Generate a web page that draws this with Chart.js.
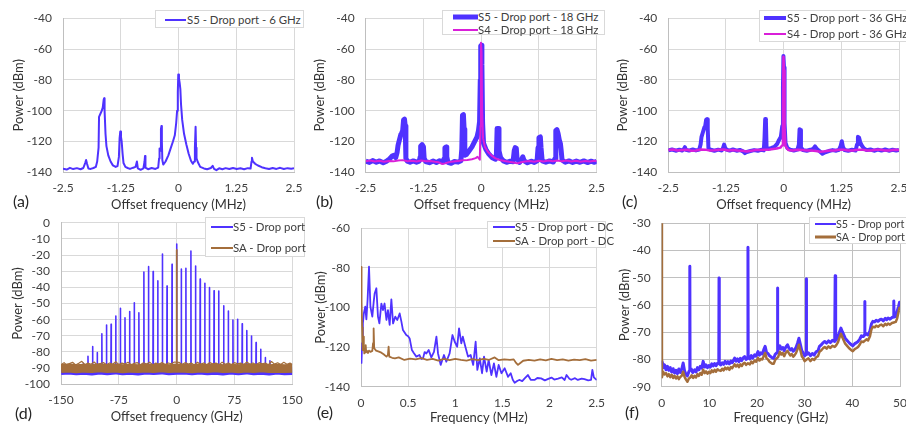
<!DOCTYPE html>
<html>
<head>
<meta charset="utf-8">
<script src="https://cdn.jsdelivr.net/npm/chart.js@4.4.1/dist/chart.umd.min.js"></script>
<style>
  html, body { margin: 0; padding: 0; background: #fff; }
  #wrap { position: relative; width: 906px; height: 425px; overflow: hidden; font-family: Lato, "Open Sans", sans-serif; }
  #wrap canvas { position: absolute; left: 0; top: 0; }
  .lg { position: absolute; background: #fff; border: 1px solid #d9d9d9; box-sizing: border-box; z-index: 5; }
  .row { position: absolute; left: 0; height: 14px; line-height: 14px; font-size: 11.4px; color: #404040; white-space: nowrap; }
  .sw { position: absolute; top: 50%; transform: translateY(-50%); }
  .row span.t { position: absolute; top: 0; }
  .pl { position: absolute; font-size: 16px; line-height: 16px; color: #262626; z-index: 5; }
</style>
</head>
<body>
<div id="wrap"></div>
<script>
// ---- colours
const BLUE = '#4f32ff';
const MAGENTA = '#d91fd9';
const BROWN = '#a46e3b';

// ---- (a) 6 GHz drop port, offset frequency in MHz
const aS5 = [[-2.5,-137.6],[-2.42,-138.2],[-2.35,-137.1],[-2.28,-137.9],[-2.2,-137.3],[-2.12,-138],[-2.06,-137.2],[-2.02,-134],[-2.0,-132],[-1.98,-134.5],[-1.95,-137.5],[-1.9,-137.8],[-1.84,-137.2],[-1.79,-136.5],[-1.76,-133],[-1.73,-124],[-1.72,-104],[-1.69,-102],[-1.66,-100],[-1.64,-98],[-1.62,-93],[-1.61,-92],[-1.6,-100],[-1.58,-115],[-1.56,-123],[-1.52,-129],[-1.47,-133],[-1.42,-135.5],[-1.36,-136.5],[-1.32,-136],[-1.29,-130],[-1.275,-118],[-1.26,-113.5],[-1.245,-117],[-1.23,-120],[-1.21,-128],[-1.19,-134],[-1.15,-136.5],[-1.1,-137.2],[-1.05,-137.8],[-0.98,-137],[-0.93,-136.5],[-0.9,-133],[-0.88,-137.5],[-0.82,-138.4],[-0.76,-137.5],[-0.735,-133],[-0.725,-129.5],[-0.715,-137],[-0.66,-138],[-0.58,-137.2],[-0.5,-137.8],[-0.44,-137],[-0.42,-131],[-0.41,-124.5],[-0.395,-126],[-0.38,-112],[-0.37,-110],[-0.36,-120],[-0.35,-132],[-0.33,-135],[-0.28,-133],[-0.22,-129],[-0.17,-124.5],[-0.12,-120],[-0.08,-116],[-0.05,-108],[-0.03,-100],[-0.015,-88],[-0.005,-76.5],[0.01,-79],[0.025,-82],[0.04,-86],[0.055,-96],[0.08,-106],[0.12,-115],[0.17,-122],[0.22,-128],[0.27,-132.5],[0.31,-134.5],[0.34,-133],[0.355,-124],[0.37,-110.5],[0.38,-124],[0.39,-131],[0.42,-133.5],[0.47,-136.5],[0.55,-137.5],[0.62,-138],[0.7,-137.2],[0.74,-135.8],[0.77,-137.8],[0.82,-138.6],[0.88,-137.4],[0.95,-138],[1.02,-137.3],[1.1,-137.9],[1.18,-137.2],[1.26,-137.8],[1.34,-137.4],[1.42,-138],[1.5,-137.3],[1.56,-137.6],[1.58,-133],[1.59,-130.5],[1.61,-133],[1.66,-134.5],[1.72,-135.6],[1.8,-136.7],[1.88,-137.4],[1.96,-137.9],[2.04,-137.2],[2.12,-137.8],[2.2,-137.1],[2.28,-137.9],[2.36,-137.3],[2.44,-137.7],[2.5,-137.4]];

// ---- (b) 18 GHz
const bS5 = [[-2.5,-132.8],[-2.42,-133.6],[-2.35,-132.4],[-2.27,-133.5],[-2.2,-132.6],[-2.12,-133.8],[-2.05,-132.8],[-1.98,-131.2],[-1.93,-129.5],[-1.89,-129],[-1.85,-130.5],[-1.82,-127],[-1.8,-122.5],[-1.77,-119],[-1.74,-115.5],[-1.72,-114.5],[-1.7,-113],[-1.68,-106],[-1.66,-105.5],[-1.645,-110],[-1.63,-131],[-1.6,-132.8],[-1.54,-133.5],[-1.47,-132.6],[-1.4,-133.4],[-1.34,-132.7],[-1.32,-130],[-1.31,-123],[-1.28,-122],[-1.25,-123.5],[-1.235,-131],[-1.2,-133],[-1.12,-133.8],[-1.04,-132.7],[-0.97,-133.6],[-0.9,-132.5],[-0.83,-133.3],[-0.8,-131],[-0.785,-124],[-0.76,-123.6],[-0.745,-130],[-0.72,-133.5],[-0.65,-134.2],[-0.58,-133],[-0.5,-133.4],[-0.44,-132.5],[-0.42,-125],[-0.405,-103],[-0.385,-102.6],[-0.37,-112],[-0.355,-129],[-0.32,-128.5],[-0.26,-126],[-0.2,-123.5],[-0.14,-120],[-0.09,-117],[-0.06,-113],[-0.035,-107],[-0.02,-80],[-0.01,-58],[0.005,-57.5],[0.015,-70],[0.03,-108],[0.05,-121],[0.1,-125],[0.16,-128],[0.24,-130.5],[0.31,-131.5],[0.33,-128],[0.345,-111.5],[0.37,-111.5],[0.385,-126],[0.42,-130.5],[0.48,-132.6],[0.55,-133.5],[0.63,-132.8],[0.69,-133.2],[0.715,-126],[0.735,-124],[0.76,-124.5],[0.775,-131],[0.83,-133.6],[0.87,-132],[0.9,-130],[0.93,-132.6],[1.0,-133.8],[1.08,-132.8],[1.15,-133.6],[1.21,-132.5],[1.23,-124],[1.25,-117.5],[1.28,-117],[1.295,-124],[1.32,-132.6],[1.4,-133.5],[1.48,-132.6],[1.56,-133.3],[1.6,-131],[1.615,-113],[1.64,-112.3],[1.665,-115],[1.69,-119],[1.715,-121.5],[1.73,-125.5],[1.75,-132],[1.82,-133.5],[1.9,-132.6],[1.98,-133.6],[2.06,-132.7],[2.14,-133.5],[2.22,-132.6],[2.3,-133.7],[2.38,-132.8],[2.45,-133.5],[2.5,-132.9]];
const bS4 = [[-2.5,-132.8],[-2.4,-132.4],[-2.3,-133],[-2.2,-132.5],[-2.1,-133.1],[-2.0,-132.6],[-1.9,-132.9],[-1.8,-132.3],[-1.7,-132.1],[-1.6,-132.8],[-1.5,-132.5],[-1.4,-133],[-1.3,-132.4],[-1.2,-132.9],[-1.1,-132.6],[-1.0,-133.2],[-0.92,-133.5],[-0.85,-134.6],[-0.78,-134.2],[-0.7,-133.4],[-0.6,-133],[-0.5,-132.6],[-0.4,-132.2],[-0.3,-132],[-0.2,-131.5],[-0.12,-130.8],[-0.08,-130],[-0.05,-131],[-0.03,-131.8],[-0.015,-110],[-0.005,-56],[0.008,-62],[0.02,-100],[0.04,-118],[0.08,-123.5],[0.14,-126.5],[0.22,-129],[0.3,-130.8],[0.4,-132],[0.5,-132.6],[0.6,-133.2],[0.7,-133.6],[0.78,-134.2],[0.86,-133.5],[0.95,-133],[1.05,-132.6],[1.15,-133.1],[1.25,-132.5],[1.35,-133],[1.45,-132.4],[1.55,-132.8],[1.65,-132.3],[1.75,-132.9],[1.85,-132.4],[1.95,-133],[2.05,-132.5],[2.15,-133.1],[2.25,-132.6],[2.35,-133],[2.45,-132.5],[2.5,-132.8]];

// ---- (c) 36 GHz
const cS5 = [[-2.5,-125.8],[-2.42,-125.2],[-2.34,-126],[-2.26,-125.3],[-2.2,-125.9],[-2.16,-124.8],[-2.14,-123.7],[-2.12,-125.4],[-2.05,-125.9],[-1.97,-125.2],[-1.9,-125.8],[-1.83,-125.3],[-1.8,-122],[-1.78,-117],[-1.75,-114],[-1.72,-111],[-1.7,-110],[-1.68,-106],[-1.66,-105.5],[-1.645,-112],[-1.63,-124.5],[-1.58,-125.4],[-1.5,-126],[-1.42,-125.3],[-1.34,-125.8],[-1.31,-124],[-1.29,-122],[-1.27,-124],[-1.24,-125.3],[-1.17,-125.9],[-1.1,-125.2],[-1.02,-126],[-0.95,-125.5],[-0.88,-126.4],[-0.84,-127.6],[-0.8,-126.8],[-0.72,-126.2],[-0.64,-125.6],[-0.56,-126],[-0.49,-125.4],[-0.43,-125.8],[-0.415,-118],[-0.4,-105.4],[-0.385,-106],[-0.37,-124.5],[-0.33,-124.8],[-0.26,-124.2],[-0.2,-123.5],[-0.14,-121.5],[-0.1,-119],[-0.06,-117],[-0.03,-110],[-0.015,-85],[-0.005,-64.5],[0.008,-72],[0.02,-108],[0.04,-121],[0.08,-124.2],[0.14,-125.3],[0.22,-125.8],[0.3,-125.3],[0.33,-122],[0.345,-112],[0.36,-112.5],[0.375,-124],[0.42,-125.6],[0.5,-126],[0.58,-125.4],[0.64,-124.8],[0.68,-123.2],[0.72,-124.8],[0.78,-126.4],[0.84,-128],[0.9,-127],[0.98,-126.2],[1.06,-125.6],[1.14,-126],[1.2,-125.4],[1.235,-123],[1.26,-119.8],[1.285,-123.5],[1.32,-125.5],[1.4,-126],[1.48,-125.4],[1.56,-125.8],[1.59,-122],[1.61,-117],[1.635,-117.5],[1.66,-120.5],[1.7,-123],[1.74,-124.5],[1.8,-125.6],[1.88,-125.2],[1.96,-126],[2.04,-125.3],[2.12,-125.9],[2.2,-125.2],[2.28,-126],[2.36,-125.4],[2.44,-125.9],[2.5,-125.5]];
const cS4 = [[-2.5,-125.6],[-2.4,-125.2],[-2.3,-125.9],[-2.2,-125.5],[-2.1,-125.4],[-2.0,-126],[-1.9,-125.8],[-1.8,-125.2],[-1.7,-125.3],[-1.6,-125.9],[-1.5,-125.7],[-1.4,-125.3],[-1.3,-125.2],[-1.2,-125.8],[-1.1,-125.6],[-1.0,-125.9],[-0.9,-126],[-0.8,-126.5],[-0.7,-126],[-0.6,-125.5],[-0.5,-125.6],[-0.4,-125.4],[-0.3,-125.2],[-0.15,-124.6],[-0.07,-124],[-0.03,-122.5],[-0.015,-98],[-0.004,-65],[0.008,-74],[0.02,-112],[0.04,-123],[0.1,-125.5],[0.2,-125.9],[0.3,-125.4],[0.4,-125.5],[0.5,-125.9],[0.6,-125.9],[0.7,-126.2],[0.8,-126.6],[0.9,-126.3],[1.0,-125.8],[1.1,-125.8],[1.2,-125.3],[1.3,-125.4],[1.4,-125.9],[1.5,-125.8],[1.6,-125.4],[1.7,-125.3],[1.8,-125.9],[1.9,-125.8],[2.0,-125.3],[2.1,-125.4],[2.2,-125.9],[2.3,-125.9],[2.4,-125.4],[2.5,-125.6]];

// ---- (d) full comb, offset frequency in GHz
const dToothFreq = [-121,-115,-109,-103,-97,-91,-85,-79,-73,-67,-61,-55,-49,-42.5,-36.5,-30.5,-24.5,-18.5,-12.5,-6,0,6,12,18.5,24.5,30.5,36.5,42.5,48.5,54.5,61,67,73,79,85,91,97,103,109,115,121];
const dToothS5 = [-87,-82.7,-76.7,-80.4,-68.7,-63.3,-62.9,-57.7,-53,-58.8,-55,-49.5,-55.7,-30.5,-27.2,-30.3,-36,-19.4,-39.2,-25.8,-13.2,-28.7,-28.2,-17.5,-26.8,-34.8,-37.5,-40.2,-42.2,-42.3,-51.5,-54.6,-60.2,-59.8,-62.5,-66.8,-70.1,-74.2,-78.4,-83.5,-85.4];
const dFloorS5 = [[-150,-91.8],[-140,-91.5],[-130,-92],[-120,-91.6],[-110,-92.1],[-100,-91.5],[-90,-91.9],[-80,-91.4],[-70,-92],[-60,-91.6],[-50,-92.1],[-40,-91.5],[-30,-91.8],[-20,-91.4],[-10,-92],[0,-91.6],[10,-91.4],[20,-91.9],[30,-91.5],[40,-92],[50,-91.6],[60,-92.1],[70,-91.5],[80,-91.9],[90,-91.4],[100,-92],[110,-91.6],[120,-92.1],[130,-91.5],[140,-91.9],[150,-91.7]];
const dFloorSA = [[-150,-90.2],[-140,-89.9],[-130,-90.4],[-120,-90],[-110,-90.3],[-100,-89.8],[-90,-90.2],[-80,-89.9],[-70,-90.4],[-60,-90],[-50,-90.3],[-40,-89.9],[-30,-90.2],[-20,-89.8],[-10,-90.3],[0,-89.9],[10,-90.1],[20,-90.4],[30,-89.9],[40,-90.2],[50,-89.8],[60,-90.3],[70,-90],[80,-90.4],[90,-89.9],[100,-90.2],[110,-89.8],[120,-90.3],[130,-90],[140,-90.3],[150,-90.1]];
const dSAFuzz = [[-150,-87.8],[-146,-86.6],[-143,-88],[-139,-87.2],[-135,-86.4],[-131,-88.1],[-127,-87],[-123,-85.8],[-119,-87.9],[-115,-86.9],[-111,-87.6],[-107,-86.2],[-103,-88],[-99,-87.1],[-95,-86.5],[-91,-87.9],[-87,-86.8],[-83,-87.6],[-79,-86],[-75,-87.8],[-71,-86.9],[-67,-87.5],[-63,-86.4],[-59,-88],[-55,-87],[-51,-86.6],[-47,-87.9],[-43,-86.7],[-39,-87.4],[-35,-86.3],[-31,-88],[-27,-86.9],[-23,-87.6],[-19,-86.5],[-15,-87.9],[-11,-86.8],[-7,-87.3],[-3,-86.2],[3,-86.4],[7,-87.8],[11,-86.6],[15,-87.5],[19,-86.9],[23,-88],[27,-86.4],[31,-87.6],[35,-86.8],[39,-87.9],[43,-86.5],[47,-87.4],[51,-86.9],[55,-88],[59,-86.3],[63,-87.6],[67,-86.8],[71,-87.9],[75,-86.6],[79,-87.3],[83,-86.9],[87,-87.8],[91,-86.2],[95,-87.6],[99,-86.8],[103,-87.9],[107,-86.6],[111,-87.4],[115,-86.8],[119,-87.9],[123,-85.9],[127,-87.5],[131,-86.7],[135,-87.8],[139,-86.4],[143,-87.6],[147,-86.9],[150,-87.7]];
const dSAPeak = [[-0.3,-90],[0,-16.9],[0.3,-90]];
const dTeethBase = -91;

// ---- (e) baseband (DC) drop port, frequency in MHz
const eS5 = [[0,-124],[0.005,-128],[0.012,-118],[0.02,-108],[0.03,-103],[0.045,-99.6],[0.057,-106],[0.07,-96],[0.085,-79.4],[0.1,-99.6],[0.12,-104.6],[0.135,-97],[0.145,-92.9],[0.163,-90.3],[0.18,-104.6],[0.195,-108],[0.216,-98],[0.233,-101.3],[0.25,-98],[0.27,-106.3],[0.286,-101.3],[0.304,-108.8],[0.322,-95.9],[0.34,-108],[0.364,-104.6],[0.385,-106.3],[0.41,-103],[0.428,-107],[0.445,-111.4],[0.48,-113.9],[0.5,-114.5],[0.516,-115.6],[0.54,-121.5],[0.56,-123],[0.587,-124.8],[0.62,-124],[0.64,-126],[0.658,-125.7],[0.675,-122.5],[0.693,-123.2],[0.718,-121.5],[0.746,-125.2],[0.774,-122.4],[0.8,-114.7],[0.817,-123.2],[0.845,-129],[0.88,-124],[0.905,-127.4],[0.94,-123.2],[0.97,-113.9],[0.994,-117.3],[1.02,-119.8],[1.04,-110.5],[1.064,-118.1],[1.08,-114.7],[1.107,-119.8],[1.135,-124.8],[1.163,-124],[1.19,-129],[1.216,-117.3],[1.234,-131.5],[1.26,-125.7],[1.284,-133.2],[1.305,-124.8],[1.333,-132.4],[1.354,-126.5],[1.383,-134.1],[1.41,-128.2],[1.436,-135],[1.46,-129],[1.49,-133.2],[1.524,-130.7],[1.56,-135],[1.588,-133.2],[1.61,-136.5],[1.63,-138],[1.66,-137],[1.683,-136.6],[1.71,-137.2],[1.736,-135.8],[1.77,-134.1],[1.8,-136.5],[1.84,-136.6],[1.87,-135.6],[1.91,-135.8],[1.95,-136.8],[1.98,-136.2],[2.02,-135.4],[2.05,-136.4],[2.09,-135.9],[2.13,-135.3],[2.16,-136.6],[2.18,-134.1],[2.21,-136],[2.23,-136.5],[2.27,-135.7],[2.3,-136.6],[2.34,-135.9],[2.37,-136.2],[2.41,-136.8],[2.44,-136.6],[2.454,-131.5],[2.47,-135.3],[2.49,-136.2],[2.5,-136.6]];
const eSA = [[0,-79.5],[0.004,-85],[0.008,-97],[0.012,-110],[0.016,-116],[0.02,-121.5],[0.025,-114.7],[0.03,-120],[0.035,-123.2],[0.045,-122.5],[0.05,-119],[0.055,-122.6],[0.065,-122],[0.075,-123],[0.085,-121.8],[0.1,-122.4],[0.12,-121.9],[0.128,-118],[0.134,-110.5],[0.14,-120.6],[0.16,-121.8],[0.19,-122.3],[0.216,-122.8],[0.24,-123.6],[0.27,-124.8],[0.285,-124],[0.293,-119.8],[0.3,-124.8],[0.33,-125.4],[0.36,-125.7],[0.4,-125.2],[0.46,-126.5],[0.52,-125.8],[0.58,-126.2],[0.64,-125.6],[0.7,-126.4],[0.76,-125.9],[0.82,-126.8],[0.88,-126],[0.94,-126.6],[1.0,-125.9],[1.06,-126.5],[1.12,-126.8],[1.18,-126.1],[1.24,-126.6],[1.3,-125.9],[1.36,-126.4],[1.418,-125.2],[1.46,-126.6],[1.52,-126.2],[1.58,-126.5],[1.62,-126.2],[1.645,-128],[1.665,-129],[1.69,-128],[1.72,-126.9],[1.78,-126.5],[1.84,-126.8],[1.9,-126.2],[1.96,-126.7],[2.02,-126],[2.08,-126.6],[2.14,-126.2],[2.2,-126.8],[2.26,-126.3],[2.32,-126.6],[2.38,-126.1],[2.44,-126.8],[2.5,-126.5]];

// ---- (f) wideband drop port, frequency in GHz
const fS5 = [[0,-80.5],[0.2,-81.5],[0.4,-83],[0.6,-82],[0.9,-83.8],[1.2,-82.5],[1.5,-84],[1.8,-83],[2.1,-84.6],[2.4,-83.4],[2.7,-85],[3.0,-84],[3.3,-85.2],[3.6,-83.5],[3.9,-84.8],[4.2,-83.6],[4.5,-81.3],[4.8,-84.2],[5.1,-85.5],[5.4,-86],[5.7,-84.5],[5.85,-84],[5.9,-45.8],[5.95,-84],[6.2,-83.5],[6.5,-84.8],[6.9,-83.8],[7.2,-84.6],[7.5,-83],[7.8,-83.8],[8.1,-82.5],[8.4,-83.2],[8.7,-80.7],[9.0,-82.8],[9.3,-82],[9.6,-83],[9.9,-82.2],[10.2,-82.8],[10.5,-81.6],[10.8,-82.4],[11.1,-81.5],[11.4,-82.3],[11.7,-81.4],[11.98,-81.5],[12.03,-50.1],[12.08,-81.6],[12.4,-82],[12.7,-81.2],[13.0,-81.8],[13.3,-80.7],[13.6,-81.5],[13.9,-80.8],[14.2,-81.6],[14.5,-80.6],[14.8,-81.2],[15.3,-79.5],[15.6,-80.6],[15.9,-79.8],[16.2,-80.8],[16.5,-79.6],[16.8,-80.4],[17.1,-79.4],[17.4,-78.9],[17.7,-80],[18.05,-79.5],[18.1,-38.8],[18.15,-79.2],[18.5,-79.8],[18.8,-78.6],[19.1,-79.5],[19.5,-78.3],[19.8,-78.8],[20.2,-77.1],[20.5,-78.4],[20.8,-77.6],[21.1,-78],[21.4,-76.5],[21.7,-75.2],[22.0,-77.5],[22.3,-77.8],[22.6,-78.6],[22.9,-79],[23.2,-79.4],[23.5,-79.6],[23.8,-78.2],[24.1,-77.6],[24.25,-77.5],[24.3,-53.8],[24.35,-77],[24.8,-75],[25.1,-76.2],[25.4,-75.6],[25.7,-76.8],[26.0,-75.6],[26.4,-74.6],[26.7,-75.8],[27.0,-76.5],[27.3,-76],[27.6,-77],[27.9,-76.4],[28.2,-75.5],[28.5,-74],[28.8,-72.2],[29.1,-74.5],[29.4,-76.8],[29.7,-77.6],[30.0,-78.7],[30.3,-78],[30.35,-50.4],[30.4,-78.2],[30.8,-77.6],[31.2,-78.6],[31.6,-77.8],[32.0,-78.4],[32.4,-77.2],[32.8,-76.8],[33.1,-75.2],[33.5,-74.6],[33.9,-73.8],[34.2,-73.4],[34.6,-74],[35.0,-73.2],[35.4,-73.8],[35.8,-73],[36.3,-73.4],[36.4,-49.3],[36.5,-73],[37.0,-71.6],[37.3,-70],[37.6,-68.5],[37.9,-69.8],[38.2,-71],[38.5,-72.2],[38.9,-73],[39.4,-74],[39.8,-74.6],[40.1,-75],[40.5,-74.2],[40.9,-73.8],[41.2,-73.4],[41.6,-72.4],[41.9,-71.3],[42.3,-71.6],[42.55,-71],[42.6,-58.7],[42.65,-71],[43.0,-70.6],[43.3,-71],[43.7,-69.5],[44.0,-67],[44.3,-66],[44.7,-66.2],[45.0,-65.6],[45.4,-66],[45.8,-65.4],[46.1,-65.2],[46.5,-65.8],[46.9,-64.9],[47.2,-65.4],[47.5,-64.8],[47.9,-65.2],[48.3,-64.6],[48.65,-64.4],[48.7,-58.5],[48.75,-64.4],[49.1,-64.2],[49.4,-62.4],[49.7,-60.5],[49.9,-59],[50,-60.5]];
const fSA = [[0,-30],[0.05,-86.5],[0.3,-84.5],[0.6,-85.5],[0.9,-85],[1.2,-86.2],[1.5,-85.4],[1.8,-86.5],[2.1,-85.6],[2.4,-86.8],[2.7,-86],[3.0,-87],[3.3,-86.2],[3.6,-87.2],[3.9,-86.4],[4.2,-86],[4.5,-84.5],[4.8,-86.4],[5.1,-87.4],[5.4,-88.2],[5.7,-87],[6.0,-86.6],[6.3,-85.8],[6.6,-86.8],[6.9,-86],[7.2,-86.6],[7.5,-85.4],[7.8,-86],[8.1,-85],[8.4,-85.6],[8.7,-83.8],[9.0,-85],[9.3,-84.4],[9.6,-85.2],[9.9,-84.5],[10.2,-85],[10.5,-84],[10.8,-84.6],[11.1,-83.8],[11.4,-84.5],[11.7,-83.6],[12.0,-84],[12.4,-84.2],[12.7,-83.4],[13.0,-84],[13.3,-83],[13.6,-83.6],[13.9,-83],[14.2,-83.8],[14.5,-82.8],[14.8,-83.2],[15.3,-81.8],[15.6,-82.6],[15.9,-81.9],[16.2,-82.8],[16.5,-81.8],[16.8,-82.4],[17.1,-81.5],[17.4,-81.2],[17.7,-82],[18.1,-81.4],[18.5,-81.8],[18.8,-80.8],[19.1,-81.4],[19.5,-80.4],[19.8,-80.8],[20.2,-79.4],[20.5,-80.4],[20.8,-79.8],[21.1,-80],[21.4,-78.8],[21.7,-77.6],[22.0,-79.6],[22.3,-80],[22.6,-80.8],[22.9,-81.2],[23.2,-81.6],[23.5,-81.6],[23.8,-80.2],[24.1,-79.6],[24.4,-79.2],[24.8,-77.2],[25.1,-78.2],[25.4,-77.6],[25.7,-78.8],[26.0,-77.6],[26.4,-76.8],[26.7,-77.8],[27.0,-78.5],[27.3,-78],[27.6,-79],[27.9,-78.4],[28.2,-77.6],[28.5,-76.2],[28.8,-74.6],[29.1,-76.6],[29.4,-78.8],[29.7,-79.6],[30.0,-80.6],[30.4,-80],[30.8,-79.6],[31.2,-80.6],[31.6,-79.8],[32.0,-80.2],[32.4,-79.2],[32.8,-78.8],[33.1,-77.2],[33.5,-76.6],[33.9,-75.8],[34.2,-75.4],[34.6,-76],[35.0,-75.2],[35.4,-75.8],[35.8,-75],[36.3,-75.4],[36.6,-74.8],[37.0,-73.6],[37.3,-72],[37.6,-70.6],[37.9,-71.8],[38.2,-73],[38.5,-74.2],[38.9,-75],[39.4,-76],[39.8,-76.6],[40.1,-77],[40.5,-76.2],[40.9,-75.8],[41.2,-75.4],[41.6,-74.4],[41.9,-73.4],[42.3,-73.6],[42.7,-73],[43.0,-72.6],[43.3,-73],[43.7,-71.5],[44.0,-69],[44.3,-68],[44.7,-68.2],[45.0,-67.6],[45.4,-68],[45.8,-67.4],[46.1,-67.2],[46.5,-67.8],[46.9,-66.9],[47.2,-67.4],[47.5,-66.8],[47.9,-67.2],[48.3,-66.6],[48.7,-66.4],[49.1,-66.2],[49.4,-65],[49.7,-62.5],[49.9,-61],[50,-62]];

// each comb tooth goes up from the floor and back down
const dTeeth = [];
dToothFreq.forEach((f, i) => {
  dTeeth.push([f - 0.25, dTeethBase], [f, dToothS5[i]], [f + 0.25, dTeethBase]);
});

const W = 906, H = 425;
const Y_W = 60, X_H = 45;
const TICK_FONT = { family: 'Lato', size: 12 };
const TITLE_FONT = { family: 'Lato', size: 13 };

function line(data, color, width, order) {
  return { data, showLine: true, borderColor: color, backgroundColor: color, borderWidth: width,
           pointRadius: 0, tension: 0, order, borderJoinStyle: 'round' };
}

// box = plot area in page pixels, yt = centre x of y title, xt = centre y of x title
function panel(box, xs, ys, xTitle, datasets, gridColor) {
  const cv = document.createElement('canvas');
  cv.width = W; cv.height = H;
  document.getElementById('wrap').appendChild(cv);
  const lh = TITLE_FONT.size * 1.2;
  new Chart(cv, {
    type: 'scatter',
    data: { datasets },
    options: {
      responsive: false, animation: false, events: [],
      layout: { padding: { left: box.l - Y_W, top: box.t, right: W - box.r, bottom: H - box.b - X_H } },
      plugins: { legend: { display: false }, tooltip: { enabled: false } },
      scales: {
        x: {
          type: 'linear', min: xs[0], max: xs[1],
          ticks: { stepSize: xs[2], autoSkip: false, maxRotation: 0, padding: 9, font: TICK_FONT, color: '#404040',
                   callback: v => String(+v.toFixed(3)) },
          grid: { color: gridColor, drawTicks: false },
          border: { color: '#bfbfbf' },
          title: { display: true, text: xTitle, font: TITLE_FONT, color: '#333',
                   padding: { top: 0, bottom: box.b + X_H - lh / 2 - box.xt } },
          afterFit: s => { s.height = X_H; s.paddingLeft = 0; s.paddingRight = 0; }
        },
        y: {
          min: ys[0], max: ys[1],
          ticks: { stepSize: ys[2], autoSkip: false, padding: 11, font: TICK_FONT, color: '#404040' },
          grid: { color: gridColor, drawTicks: false },
          border: { color: '#bfbfbf' },
          title: { display: true, text: 'Power (dBm)', font: TITLE_FONT, color: '#333',
                   padding: { top: box.yt - (box.l - Y_W) - lh / 2, bottom: 0 } },
          afterFit: s => { s.width = Y_W; }
        }
      }
    }
  });
}

const LIGHT = '#d9d9d9';
panel({ l: 63, t: 17.3, r: 294, b: 172.3, yt: 19, xt: 205 }, [-2.5, 2.5, 1.25], [-140, -40, 20],
  'Offset frequency (MHz)', [line(aS5, BLUE, 2, 0)], LIGHT);
panel({ l: 365.7, t: 17.3, r: 596.7, b: 172.3, yt: 320, xt: 205 }, [-2.5, 2.5, 1.25], [-140, -40, 20],
  'Offset frequency (MHz)', [line(bS5, BLUE, 5, 1), line(bS4, MAGENTA, 2, 0)], LIGHT);
panel({ l: 668.3, t: 17.3, r: 899, b: 172.3, yt: 623, xt: 205 }, [-2.5, 2.5, 1.25], [-140, -40, 20],
  'Offset frequency (MHz)', [line(cS5, BLUE, 4, 1), line(cS4, MAGENTA, 2.5, 0)], LIGHT);
panel({ l: 61, t: 222.7, r: 292.3, b: 384.3, yt: 18, xt: 416.7 }, [-150, 150, 75], [-100, 0, 10],
  'Offset frequency (GHz)', [line(dFloorS5, BLUE, 8, 3), line(dTeeth, BLUE, 1.6, 2),
  line(dFloorSA, BROWN, 9, 1), line(dSAFuzz, BROWN, 1.2, 1), line(dSAPeak, BROWN, 1.8, 0)], LIGHT);
panel({ l: 361, t: 228.3, r: 596.7, b: 386.7, yt: 321, xt: 418 }, [0, 2.5, 0.5], [-140, -60, 20],
  'Frequency (MHz)', [line(eS5, BLUE, 1.8, 1), line(eSA, BROWN, 1.8, 0)], LIGHT);
panel({ l: 661.7, t: 223.3, r: 900, b: 386.7, yt: 625, xt: 418 }, [0, 50, 10], [-90, -30, 10],
  'Frequency (GHz)', [line(fS5, BLUE, 3, 1), line(fSA, BROWN, 2.5, 0)], '#c0c0c0');
</script>
<div id="overlay">
<div class="lg" style="left:155px;top:10px;width:149px;height:18px">
  <div class="row" style="top:2px;width:149px"><span class="sw" style="left:9px;width:21px;height:2px;background:#4f32ff"></span><span class="t" style="left:31px">S5 - Drop port - 6 GHz</span></div>
</div>
<div class="lg" style="left:442px;top:10px;width:163px;height:25px">
  <div class="row" style="top:-1px;width:163px"><span class="sw" style="left:10px;width:25px;height:5px;background:#4f32ff"></span><span class="t" style="left:35px">S5 - Drop port - 18 GHz</span></div>
  <div class="row" style="top:12px;width:163px"><span class="sw" style="left:10px;width:25px;height:2px;background:#d91fd9"></span><span class="t" style="left:35px">S4 - Drop port - 18 GHz</span></div>
</div>
<div class="lg" style="left:759px;top:10px;width:152px;height:32px">
  <div class="row" style="top:0px;width:152px"><span class="sw" style="left:4px;width:22px;height:4px;background:#4f32ff"></span><span class="t" style="left:27px">S5 - Drop port - 36 GHz</span></div>
  <div class="row" style="top:16px;width:152px"><span class="sw" style="left:4px;width:22px;height:2px;background:#d91fd9"></span><span class="t" style="left:27px">S4 - Drop port - 36 GHz</span></div>
</div>
<div class="lg" style="left:205px;top:217px;width:100px;height:40px">
  <div class="row" style="top:2px;width:100px"><span class="sw" style="left:5px;width:22px;height:2px;background:#4f32ff"></span><span class="t" style="left:27px">S5 - Drop port</span></div>
  <div class="row" style="top:23px;width:100px"><span class="sw" style="left:5px;width:22px;height:2px;background:#a46e3b"></span><span class="t" style="left:27px">SA - Drop port</span></div>
</div>
<div class="lg" style="left:487px;top:221px;width:119px;height:27px">
  <div class="row" style="top:-2px;width:119px"><span class="sw" style="left:5px;width:22px;height:2px;background:#4f32ff"></span><span class="t" style="left:27px">S5 - Drop port - DC</span></div>
  <div class="row" style="top:12px;width:119px"><span class="sw" style="left:5px;width:22px;height:2px;background:#a46e3b"></span><span class="t" style="left:27px">SA - Drop port - DC</span></div>
</div>
<div class="lg" style="left:809px;top:217px;width:100px;height:27px">
  <div class="row" style="top:-1px;width:100px;font-size:10.8px"><span class="sw" style="left:5px;width:21px;height:2px;background:#4f32ff"></span><span class="t" style="left:26px">S5 - Drop port</span></div>
  <div class="row" style="top:12px;width:100px;font-size:10.8px"><span class="sw" style="left:5px;width:21px;height:3px;background:#a46e3b"></span><span class="t" style="left:26px">SA - Drop port</span></div>
</div>
<div class="pl" style="left:13px;top:193px">(a)</div>
<div class="pl" style="left:316px;top:193px">(b)</div>
<div class="pl" style="left:622px;top:193px">(c)</div>
<div class="pl" style="left:15px;top:405px">(d)</div>
<div class="pl" style="left:317px;top:404px">(e)</div>
<div class="pl" style="left:625px;top:404px">(f)</div>
</div>
<script>
  // move the legends and panel labels into the chart container so they sit above the canvases
  const ov = document.getElementById('overlay');
  const wrap = document.getElementById('wrap');
  while (ov.firstChild) wrap.appendChild(ov.firstChild);
</script>
</body>
</html>
